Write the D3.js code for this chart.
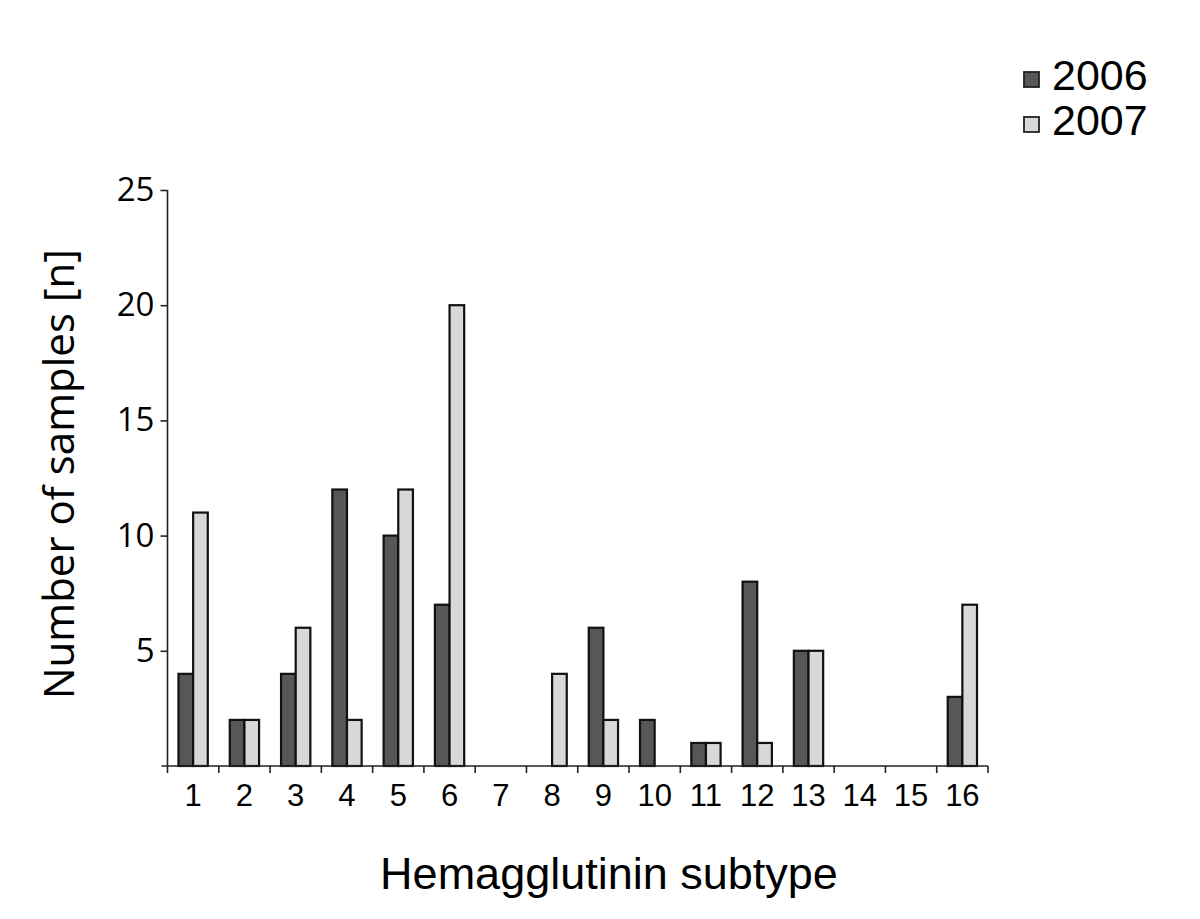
<!DOCTYPE html>
<html>
<head>
<meta charset="utf-8">
<script src="https://cdn.jsdelivr.net/npm/d3@7/dist/d3.min.js"></script>
<style>
  html, body { margin: 0; padding: 0; background: #fff; }
  svg { display: block; }
</style>
</head>
<body>
<svg id="chart" width="1200" height="919"></svg>
<script>
// Data
const subtypes = ['1', '2', '3', '4', '5', '6', '7', '8', '9', '10', '11', '12', '13', '14', '15', '16']
const years = ['2006', '2007']
const samples_2006 = [4, 2, 4, 12, 10, 7, 0, 0, 6, 2, 1, 8, 5, 0, 0, 3]
const samples_2007 = [11, 2, 6, 2, 12, 20, 0, 4, 2, 0, 1, 1, 5, 0, 0, 7]
const y_ticks = [5, 10, 15, 20, 25]

const color_dict = {
  '2006': '#575757',
  '2007': '#d8d8d8'
}

let svg = d3.select('#chart')

// Scales
let x0 = d3.scaleBand()
  .domain(subtypes)
  .range([167.5, 988])
  .padding(0)

let x1 = d3.scaleBand()
  .domain(years)
  .range([0, x0.bandwidth()])
  .paddingInner(0)
  .paddingOuter(0.75)

let y = d3.scaleLinear()
  .domain([0, 25])
  .range([766, 190])

// Bars
let rows = subtypes.map((s, i) => ({
  subtype: s,
  values: [
    { year: '2006', n: samples_2006[i] },
    { year: '2007', n: samples_2007[i] }
  ]
}))

let groups = svg.append('g')
  .selectAll('g')
  .data(rows)
  .join('g')
  .attr('transform', d => `translate(${x0(d.subtype)},0)`)

groups.selectAll('rect')
  .data(d => d.values.filter(v => v.n > 0))
  .join('rect')
  .attr('x', d => x1(d.year))
  .attr('y', d => y(d.n))
  .attr('width', x1.bandwidth())
  .attr('height', d => y(0) - y(d.n))
  .style('fill', d => color_dict[d.year])
  .style('stroke', '#111')
  .style('stroke-width', '2.2px')

// Y axis
let y_axis = svg.append('g')
  .attr('transform', 'translate(167.5,0)')
  .call(d3.axisLeft(y).tickValues(y_ticks).tickSize(7).tickPadding(6))

y_axis.select('.domain')
  .attr('d', `M0,${y(25)}V${y(0)}`)
  .style('stroke', '#222')
  .style('stroke-width', '1.6px')
y_axis.selectAll('.tick line')
  .style('stroke', '#222')
  .style('stroke-width', '1.6px')
y_axis.selectAll('.tick text')
  .style('font-family', '"Open Sans", sans-serif')
  .style('font-size', '33px')
  .style('fill', '#000')

// X axis: ticks sit on band edges, labels at band centres
let x_axis = svg.append('g')
  .attr('transform', `translate(0,${y(0)})`)
  .call(d3.axisBottom(x0).tickSize(0).tickPadding(18))

x_axis.select('.domain')
  .attr('d', `M${x0.range()[0] - 6},0H${x0.range()[1]}`)
  .style('stroke', '#222')
  .style('stroke-width', '1.6px')
x_axis.selectAll('.tick text')
  .style('font-family', '"Liberation Sans", Arial, sans-serif')
  .style('font-size', '31px')
  .style('fill', '#000')

let edges = subtypes.map(s => x0(s)).concat([x0.range()[1]])
x_axis.selectAll('line.edge')
  .data(edges)
  .join('line')
  .attr('class', 'edge')
  .attr('x1', d => d)
  .attr('x2', d => d)
  .attr('y1', 0)
  .attr('y2', 7)
  .style('stroke', '#222')
  .style('stroke-width', '1.6px')

// Axis titles
svg.append('text')
  .attr('transform', 'translate(74,474) rotate(-90)')
  .attr('text-anchor', 'middle')
  .style('font-family', '"Open Sans", sans-serif')
  .style('font-size', '42px')
  .text('Number of samples [n]')

svg.append('text')
  .attr('x', 609)
  .attr('y', 889)
  .attr('text-anchor', 'middle')
  .style('font-family', '"Liberation Sans", Arial, sans-serif')
  .style('font-size', '45px')
  .text('Hemagglutinin subtype')

// Legend
let legend = svg.append('g')
  .selectAll('g')
  .data(years)
  .join('g')
  .attr('transform', (d, i) => `translate(1024,${72 + i * 45})`)

legend.append('rect')
  .attr('width', 15)
  .attr('height', 15)
  .style('fill', d => color_dict[d])
  .style('stroke', '#222')
  .style('stroke-width', '1.8px')

legend.append('text')
  .attr('x', 28)
  .attr('y', 18)
  .style('font-family', '"Liberation Sans", Arial, sans-serif')
  .style('font-size', '43px')
  .text(d => d)
</script>
</body>
</html>
